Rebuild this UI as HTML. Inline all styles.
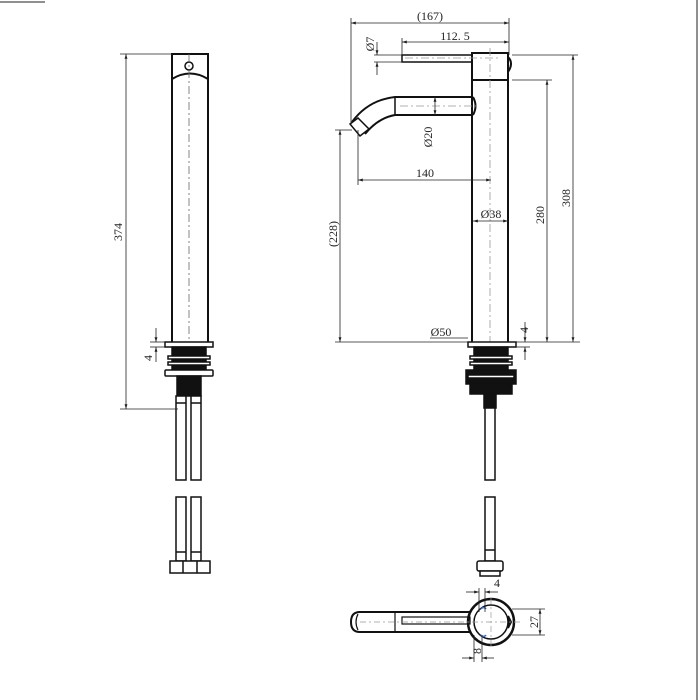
<!DOCTYPE html>
<html><head><meta charset="utf-8"><style>html,body{margin:0;padding:0;background:#fff}svg{display:block}text{font-family:"Liberation Serif",serif;font-size:12px;fill:#222}</style></head><body>
<svg width="700" height="700" viewBox="0 0 700 700" xmlns="http://www.w3.org/2000/svg">
<defs><marker id="a" viewBox="0 0 10 10" refX="10" refY="5" markerWidth="6" markerHeight="6" orient="auto-start-reverse"><path d="M0,2 L10,5 L0,8z" fill="#222"/></marker></defs>
<g stroke="#222" fill="none">
<line x1="0" y1="2" x2="45" y2="2" stroke-width="1"/>
<line x1="697" y1="0" x2="697" y2="700" stroke-width="1"/>
</g>
<!-- LEFT VIEW -->
<g stroke="#111" fill="none" stroke-width="2">
<rect x="172" y="54" width="36" height="290"/>
<path d="M172 79 Q190 68 208 79" />
<circle cx="189" cy="66" r="4" stroke-width="1.5"/>
</g>
<line x1="189" y1="54" x2="189" y2="344" stroke="#666" stroke-dasharray="8 3 2 3" stroke-width="0.8"/>
<g stroke="#111" stroke-width="1.5">
<rect x="165" y="342" width="48" height="5" fill="#fff"/>
<rect x="172" y="347" width="34" height="23" fill="#111"/>
<rect x="168" y="356" width="42" height="3" fill="#fff"/>
<rect x="168" y="362" width="42" height="3" fill="#fff"/>
<rect x="165" y="370" width="48" height="6" fill="#fff" rx="1"/>
<rect x="177" y="376" width="24" height="20" fill="#111"/>
<rect x="176" y="396" width="10" height="84" fill="#fff"/>
<rect x="191" y="396" width="10" height="84" fill="#fff"/>
<line x1="176" y1="403" x2="186" y2="403"/><line x1="191" y1="403" x2="201" y2="403"/>
<rect x="176" y="497" width="10" height="64" fill="#fff"/>
<rect x="191" y="497" width="10" height="64" fill="#fff"/>
<line x1="176" y1="552" x2="186" y2="552"/><line x1="191" y1="552" x2="201" y2="552"/>
<rect x="170" y="561" width="40" height="12" fill="#fff"/>
<line x1="183" y1="561" x2="183" y2="573"/><line x1="197" y1="561" x2="197" y2="573"/>
</g>
<g stroke="#222" stroke-width="0.8" fill="none">
<line x1="120" y1="54" x2="172" y2="54"/><line x1="120" y1="409" x2="178" y2="409"/>
<line x1="126" y1="54" x2="126" y2="409" marker-start="url(#a)" marker-end="url(#a)"/>
<line x1="150" y1="342" x2="165" y2="342"/><line x1="150" y1="347" x2="165" y2="347"/>
<line x1="156" y1="328" x2="156" y2="342" marker-end="url(#a)"/><line x1="156" y1="362" x2="156" y2="347" marker-end="url(#a)"/>
</g>
<text transform="translate(122,232) rotate(-90)" text-anchor="middle">374</text>
<text transform="translate(152,358) rotate(-90)" text-anchor="middle">4</text>
<!-- RIGHT VIEW -->
<g stroke="#111" fill="none" stroke-width="2">
<rect x="472" y="53" width="36" height="291"/>
<line x1="472" y1="80" x2="508" y2="80"/>
<path d="M508 57 Q514 63 508 72"/>
<rect x="402" y="55" width="70" height="7" stroke-width="1.5"/>
<path d="M473 97 L395 97 Q368 100 352 122 M473 115 L395 115 Q378 118 365 134" />
<line x1="395" y1="97" x2="395" y2="115" stroke-width="1.5"/>
<path d="M473 97 Q478 106 473 115"/>
<polygon points="350,124 358,118 369,129 360,136" stroke-width="1.5"/>
</g>
<g stroke="#999" stroke-dasharray="8 3 2 3" stroke-width="0.8">
<line x1="490" y1="48" x2="490" y2="344"/><line x1="400" y1="106" x2="480" y2="106"/><line x1="405" y1="58" x2="500" y2="58"/>
</g>
<g stroke="#111" stroke-width="1.5">
<rect x="468" y="342" width="48" height="5" fill="#fff"/>
<rect x="474" y="347" width="34" height="23" fill="#111"/>
<rect x="470" y="356" width="42" height="3" fill="#fff"/>
<rect x="470" y="362" width="42" height="3" fill="#fff"/>
<rect x="466" y="370" width="50" height="14" fill="#111"/>
<rect x="468" y="375" width="46" height="3" fill="#fff"/>
<rect x="470" y="384" width="42" height="10" fill="#111"/>
<rect x="484" y="394" width="12" height="14" fill="#111"/>
<rect x="485" y="408" width="10" height="72" fill="#fff"/>
<rect x="485" y="497" width="10" height="64" fill="#fff"/>
<line x1="485" y1="550" x2="495" y2="550"/>
<rect x="477" y="561" width="26" height="10" fill="#fff" rx="2"/>
<rect x="480" y="571" width="20" height="5" fill="#fff"/>
</g>
<g stroke="#222" stroke-width="0.8" fill="none">
<line x1="351" y1="18" x2="351" y2="125"/><line x1="509" y1="18" x2="509" y2="55"/>
<line x1="351" y1="23" x2="509" y2="23" marker-start="url(#a)" marker-end="url(#a)"/>
<line x1="402" y1="38" x2="402" y2="55"/>
<line x1="402" y1="42" x2="509" y2="42" marker-start="url(#a)" marker-end="url(#a)"/>
<line x1="374" y1="55" x2="402" y2="55"/><line x1="374" y1="62" x2="402" y2="62"/>
<line x1="377" y1="42" x2="377" y2="55" marker-end="url(#a)"/><line x1="377" y1="75" x2="377" y2="62" marker-end="url(#a)"/>
<line x1="358" y1="130" x2="358" y2="185"/>
<line x1="358" y1="180" x2="491" y2="180" marker-start="url(#a)" marker-end="url(#a)"/>
<line x1="435" y1="97" x2="435" y2="115" marker-start="url(#a)" marker-end="url(#a)"/>
<line x1="473" y1="221" x2="508" y2="221" marker-start="url(#a)" marker-end="url(#a)"/>
<line x1="512" y1="80" x2="552" y2="80"/><line x1="512" y1="55" x2="578" y2="55"/>
<line x1="547" y1="80" x2="547" y2="342" marker-start="url(#a)" marker-end="url(#a)"/>
<line x1="573" y1="55" x2="573" y2="342" marker-start="url(#a)" marker-end="url(#a)"/>
<line x1="335" y1="130" x2="352" y2="130"/>
<line x1="340" y1="130" x2="340" y2="342" marker-start="url(#a)" marker-end="url(#a)"/>
<line x1="335" y1="342" x2="580" y2="342"/>
<line x1="430" y1="338" x2="468" y2="338"/>
<line x1="516" y1="347" x2="530" y2="347"/>
<line x1="525" y1="322" x2="525" y2="342" marker-end="url(#a)"/><line x1="525" y1="360" x2="525" y2="347" marker-end="url(#a)"/>
</g>
<text x="430" y="20" text-anchor="middle">(167)</text>
<text x="455" y="40" text-anchor="middle">112. 5</text>
<text transform="translate(374,44) rotate(-90)" text-anchor="middle">Ø7</text>
<text x="425" y="177" text-anchor="middle">140</text>
<text transform="translate(432,137) rotate(-90)" text-anchor="middle">Ø20</text>
<text x="491" y="218" text-anchor="middle">Ø38</text>
<text transform="translate(544,215) rotate(-90)" text-anchor="middle">280</text>
<text transform="translate(570,198) rotate(-90)" text-anchor="middle">308</text>
<text transform="translate(337,234) rotate(-90)" text-anchor="middle">(228)</text>
<text x="441" y="336" text-anchor="middle">Ø50</text>
<text transform="translate(528,330) rotate(-90)" text-anchor="middle">4</text>
<!-- PLAN VIEW -->
<g stroke="#111" fill="none" stroke-width="2">
<path d="M470 612 L360 612 Q351 612 351 622 Q351 632 360 632 L470 632"/>
<path d="M358 614 Q354 622 358 630" stroke-width="1.2"/>
<line x1="395" y1="612" x2="395" y2="632" stroke-width="1.2"/>
<rect x="402" y="617" width="68" height="7" stroke-width="1.2"/>
<circle cx="491" cy="622" r="23" stroke-width="2.5"/>
<circle cx="491" cy="622" r="17" stroke-width="1.5"/>
<path d="M508 616 L511 622 L508 628" fill="#111"/>
</g>
<path d="M481 609 a3 3 0 0 1 5 0 M481 635 a3 3 0 0 0 5 0" stroke="#36c" stroke-width="1.5" fill="none"/>
<g stroke="#999" stroke-dasharray="6 3 2 3" stroke-width="0.7"><line x1="360" y1="622" x2="520" y2="622"/><line x1="491" y1="598" x2="491" y2="648"/></g>
<g stroke="#222" stroke-width="0.8" fill="none">
<line x1="479" y1="588" x2="479" y2="612"/><line x1="485" y1="588" x2="485" y2="612"/>
<line x1="466" y1="592" x2="479" y2="592" marker-end="url(#a)"/><line x1="498" y1="592" x2="485" y2="592" marker-end="url(#a)"/>
<line x1="474" y1="635" x2="474" y2="662"/><line x1="482" y1="635" x2="482" y2="662"/>
<line x1="462" y1="658" x2="474" y2="658" marker-end="url(#a)"/><line x1="494" y1="658" x2="482" y2="658" marker-end="url(#a)"/>
<line x1="512" y1="609" x2="545" y2="609"/><line x1="512" y1="635" x2="545" y2="635"/>
<line x1="540" y1="609" x2="540" y2="635" marker-start="url(#a)" marker-end="url(#a)"/>
</g>
<text x="497" y="587" text-anchor="middle">4</text>
<text transform="translate(481,651) rotate(-90)" text-anchor="middle">8</text>
<text transform="translate(538,622) rotate(-90)" text-anchor="middle">27</text>
</svg>
</body></html>
